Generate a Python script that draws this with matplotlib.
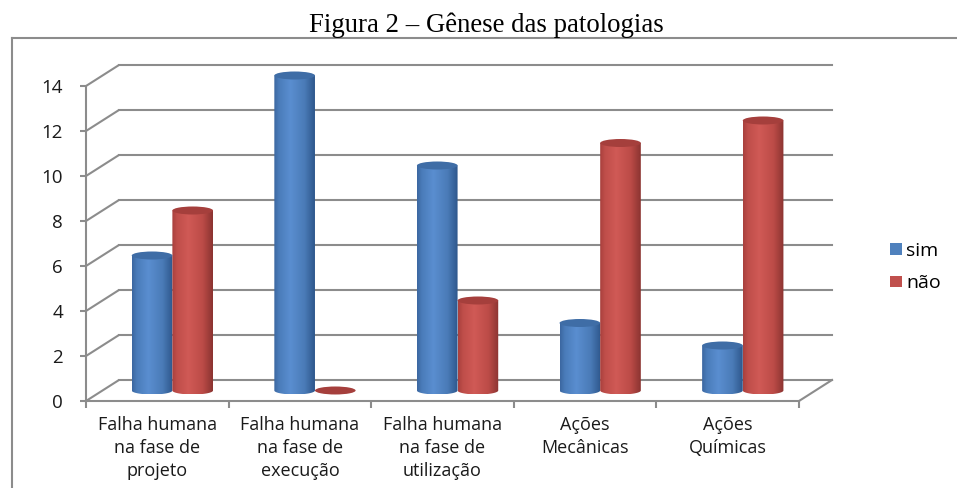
import numpy as np
import matplotlib
matplotlib.use('Agg')
import matplotlib.pyplot as plt
from matplotlib.patches import Polygon, Ellipse, Patch
from matplotlib.colors import LinearSegmentedColormap
from matplotlib.lines import Line2D

# data
categories = ['Falha humana\nna fase de\nprojeto',
              'Falha humana\nna fase de\nexecução',
              'Falha humana\nna fase de\nutilização',
              'Ações\nMecânicas',
              'Ações\nQuímicas']
sim = [6, 14, 10, 3, 2]
nao = [8, 0, 4, 11, 12]
series_names = ['sim', 'não']
yticks = [0, 2, 4, 6, 8, 10, 12, 14]

W, H = 957, 488
fig = plt.figure(figsize=(W / 100, H / 100), dpi=100)
plt.rcParams['font.family'] = ['Open Sans', 'DejaVu Sans']

# pixel scale of the front plane
px_x = 142.6   # px per category
px_y = 22.5    # px per unit
x0_px, y0_px = 86, 401
xmax, ymin, ymax = 5.4, -0.5, 15.5
ax = fig.add_axes([x0_px / W, (H - (y0_px - ymin * px_y)) / H,
                   xmax * px_x / W, (ymax - ymin) * px_y / H])

# depth offset (3d look) in data units
DX = 33 / px_x
DY = 21 / px_y
grid_c = '#8c8c8c'
n = len(categories)

# walls / gridlines
for v in yticks:
    ax.plot([0, DX], [v, v + DY], color=grid_c, lw=1.5, zorder=1, solid_capstyle='butt')
    ax.plot([DX, n + DX], [v + DY, v + DY], color=grid_c, lw=1.5, zorder=1)
ax.plot([n, n + DX], [0, DY], color=grid_c, lw=1.5, zorder=1)

blue_cm = LinearSegmentedColormap.from_list('b', [(0, '#3b67a0'), (0.12, '#4a7cba'), (0.4, '#5a8ed0'),
                                                  (0.75, '#4a7bb7'), (1, '#2e578c')])
red_cm = LinearSegmentedColormap.from_list('r', [(0, '#a8403d'), (0.12, '#bf4e4a'), (0.4, '#d05a56'),
                                                 (0.75, '#bc4b47'), (1, '#8b3431')])
grad = np.linspace(0, 1, 200)[None, :]
ry = 4 / px_y
bw = 0.285


def cylinder(xl, value, cmap, top_color):
    base = DY / 2
    top = value + DY / 2
    if value > 0:
        t = np.linspace(np.pi, 2 * np.pi, 60)
        bx = xl + bw / 2 + bw / 2 * np.cos(t)
        by = base + ry * np.sin(t)
        verts = [(xl, top)] + list(zip(bx, by)) + [(xl + bw, top)]
        poly = Polygon(verts, closed=True, facecolor='none', edgecolor='none', zorder=3)
        ax.add_patch(poly)
        im = ax.imshow(grad, cmap=cmap, extent=(xl, xl + bw, base - ry, top),
                       aspect='auto', origin='lower', zorder=3, interpolation='bilinear')
        im.set_clip_path(poly)
    ax.add_patch(Ellipse((xl + bw / 2, top), bw, 2 * ry, facecolor=top_color,
                         edgecolor='none', zorder=4))


for i in range(n):
    c = i + 0.5 + DX / 2 - 0.01
    cylinder(c - bw, sim[i], blue_cm, '#3f6da6')
    cylinder(c, nao[i], red_cm, '#a53f3c')

ax.set_xlim(0, xmax)
ax.set_ylim(ymin, ymax)

# axes
for s in ['top', 'right']:
    ax.spines[s].set_visible(False)
ax.spines['left'].set_position(('data', 0))
ax.spines['left'].set_bounds(0, 14)
ax.spines['bottom'].set_position(('data', 0))
ax.spines['bottom'].set_bounds(0, n)
for s in ['left', 'bottom']:
    ax.spines[s].set_color(grid_c)
    ax.spines[s].set_linewidth(1.5)

ax.set_yticks(yticks)
ax.tick_params(axis='y', length=4.5, width=1.5, color=grid_c, pad=12, labelsize=13.5, labelcolor='#1a1a1a')
ax.set_xticks(np.arange(n) + 0.5)
ax.set_xticklabels(categories, fontsize=13, color='#1a1a1a', linespacing=1.35)
ax.set_xticks(np.arange(n + 1), minor=True)
ax.tick_params(axis='x', which='major', length=0, pad=11)
ax.tick_params(axis='x', which='minor', length=5, width=1.5, color=grid_c)

# legend
handles = [Patch(facecolor='#4f81bd'), Patch(facecolor='#c0504d')]
fig.legend(handles, series_names, loc='center left', bbox_to_anchor=(872 / W, 1 - 267 / H),
           frameon=False, fontsize=14, handlelength=0.62, handleheight=0.55,
           handletextpad=0.25, labelspacing=0.75)

# title and frame
fig.text(486 / W, 1 - 32 / H, 'Figura 2 – Gênese das patologias', ha='center', va='baseline',
         fontsize=19.3, family='Liberation Serif')
fig.add_artist(Line2D([12 / W, 12 / W], [0, 1 - 38 / H], color='#8c8c8c', lw=1.5))
fig.add_artist(Line2D([12 / W, 1], [1 - 38 / H, 1 - 38 / H], color='#8c8c8c', lw=1.5))

fig.savefig('out.png', dpi=100)
